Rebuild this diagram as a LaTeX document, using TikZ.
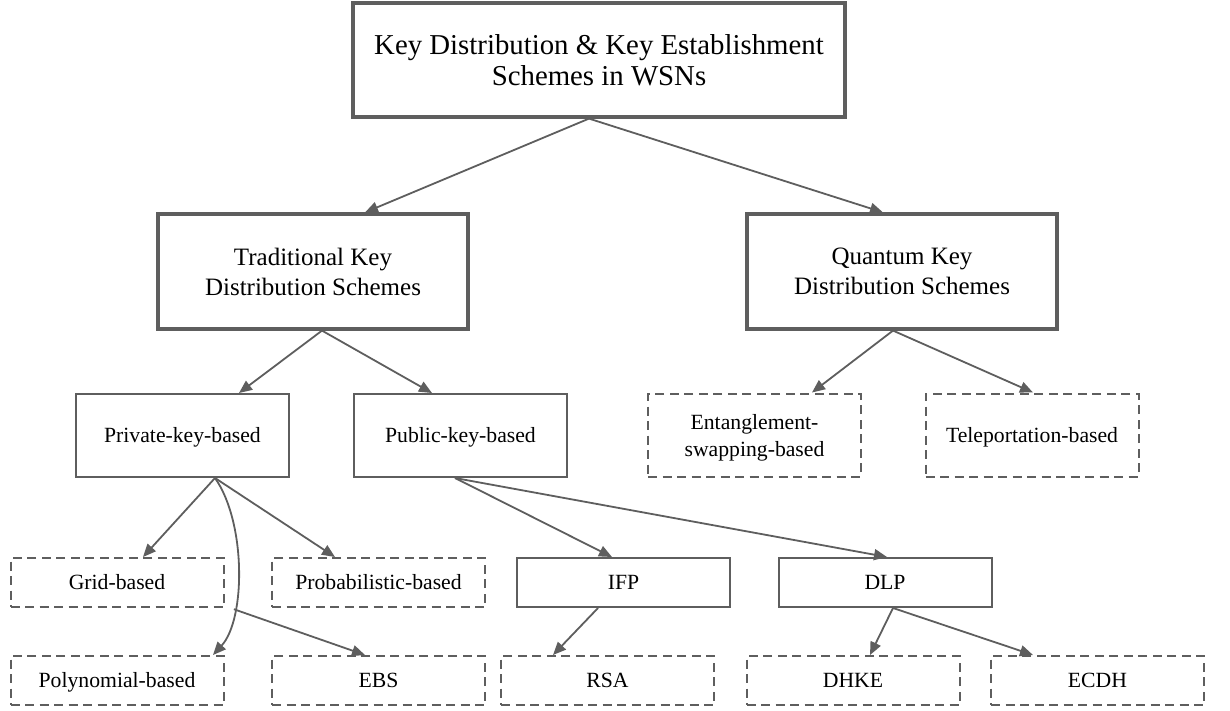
\documentclass[tikz,border=0pt]{standalone}
\usepackage{fontspec}
\setmainfont{Liberation Serif}
\usetikzlibrary{arrows.meta}
\definecolor{edgegray}{HTML}{5E5E5E}
\tikzset{
  box/.style={draw=edgegray, fill=white, align=center, inner sep=0pt, text=black},
  bigbox/.style={box, line width=3.2pt, minimum width=310pt, minimum height=115pt, font=\fontsize{25}{30}\selectfont},
  midbox/.style={box, line width=2pt, minimum width=213pt, minimum height=83pt, font=\fontsize{21.7}{27}\selectfont},
  smallbox/.style={box, line width=2pt, minimum width=213pt, minimum height=49pt, font=\fontsize{21.7}{27}\selectfont},
  oneline/.style={text height=14.5pt, text depth=0pt},
  dashbox/.style={dash pattern=on 9pt off 5.5pt},
  conn/.style={draw=edgegray, line width=1.8pt, -{Triangle[length=13pt,width=11pt]}},
}
\begin{document}
\begin{tikzpicture}[x=1pt,y=-1pt]
\useasboundingbox (0,0) rectangle (1230,710);
% level 0
\node[bigbox, minimum width=492pt, minimum height=114pt, font=\fontsize{28.8}{31}\selectfont] (top) at (599,60) {Key Distribution \& Key Establishment\\Schemes in WSNs};
% level 1
\node[bigbox] (trad) at (313,271.5) {Traditional Key\\Distribution Schemes};
\node[bigbox] (quant) at (902,271.5) {Quantum Key\\Distribution Schemes};
% level 2
\node[midbox, oneline] (priv) at (182.5,435.5) {Private-key-based};
\node[midbox, oneline] (pub) at (460.5,435.5) {Public-key-based};
\node[midbox, dashbox, text depth=0pt] (ent) at (754.5,435) {Entanglement-\\swapping-based};
\node[midbox, dashbox, oneline] (tel) at (1032,435) {Teleportation-based};
% level 3
\node[smallbox, dashbox, oneline] (grid) at (117,582.5) {Grid-based};
\node[smallbox, dashbox, oneline] (prob) at (378.5,582.5) {Probabilistic-based};
\node[smallbox, oneline] (ifp) at (623.5,582.5) {IFP};
\node[smallbox, oneline] (dlp) at (885,582.5) {DLP};
% level 4
\node[smallbox, dashbox, oneline] (poly) at (117,680.5) {Polynomial-based};
\node[smallbox, dashbox, oneline] (ebs) at (378.5,680.5) {EBS};
\node[smallbox, dashbox, oneline] (rsa) at (607.5,680.5) {RSA};
\node[smallbox, dashbox, oneline] (dhke) at (853,680.5) {DHKE};
\node[smallbox, dashbox, oneline] (ecdh) at (1097.5,680.5) {ECDH};
% connectors
\draw[conn] ([xshift=-10pt]top.south) -- ([xshift=52pt]trad.north);
\draw[conn] ([xshift=-10pt]top.south) -- ([xshift=-19pt]quant.north);
\draw[conn] ([xshift=9pt]trad.south) -- ([xshift=56.5pt]priv.north);
\draw[conn] ([xshift=9pt]trad.south) -- ([xshift=-28.5pt]pub.north);
\draw[conn] ([xshift=-9pt]quant.south) -- ([xshift=57.5pt]ent.north);
\draw[conn] ([xshift=-9pt]quant.south) -- ([xshift=1pt]tel.north);
\draw[conn] ([xshift=32.5pt]priv.south) -- ([xshift=26pt]grid.north);
\draw[conn] ([xshift=32.5pt]priv.south) -- ([xshift=-43.5pt]prob.north);
\draw[conn] ([xshift=32.5pt]priv.south) .. controls +(31,44) and +(33,-36) .. ([xshift=96pt]poly.north) coordinate[pos=0.7] (br);
\draw[conn] (br) -- ([xshift=-13.5pt]ebs.north);
\draw[conn] ([xshift=-5.5pt]pub.south) -- ([xshift=-11.5pt]ifp.north);
\draw[conn] ([xshift=-5.5pt]pub.south) -- ([xshift=2pt]dlp.north);
\draw[conn] ([xshift=-25.5pt]ifp.south) -- ([xshift=-54.5pt]rsa.north);
\draw[conn] ([xshift=8pt]dlp.south) -- ([xshift=17pt]dhke.north);
\draw[conn] ([xshift=8pt]dlp.south) -- ([xshift=-64.5pt]ecdh.north);
\end{tikzpicture}
\end{document}
